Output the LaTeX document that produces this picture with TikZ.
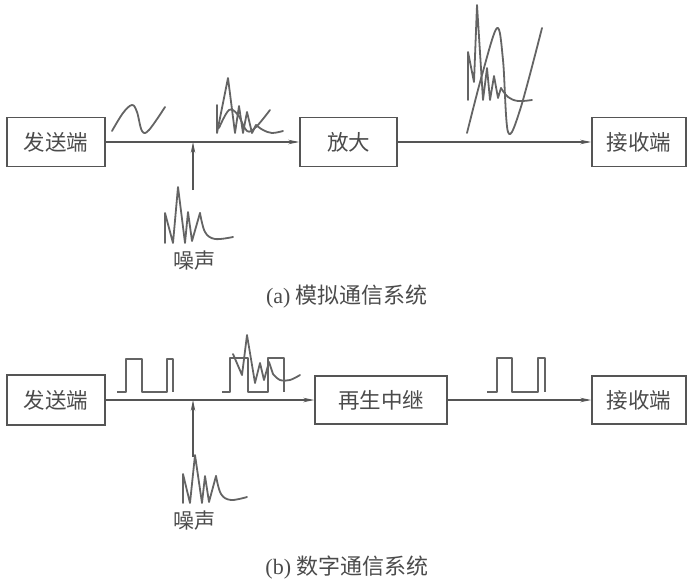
\documentclass[tikz,border=0pt]{standalone}
\usepackage{fontspec}
\setmainfont{Liberation Serif}
\newfontfamily\cjk{Noto Sans CJK SC}
\usetikzlibrary{arrows.meta}
\definecolor{ink}{RGB}{85,85,85}
\definecolor{wave}{RGB}{100,100,100}
\definecolor{txt}{RGB}{75,75,75}
\begin{document}
\begin{tikzpicture}[x=1pt,y=-1pt,
  box/.style={draw=ink,line width=1.6pt,minimum height=49pt,inner sep=0pt,
    text=txt,font=\fontsize{21.5}{21.5}\selectfont\cjk},
  conn/.style={draw=ink,line width=1.1pt,-{Stealth[length=11pt,width=4.5pt]}},
  wv/.style={draw=wave,line width=1.8pt,line join=round,line cap=round},
  lbl/.style={text=txt,font=\fontsize{21}{21}\selectfont\cjk,inner sep=0pt},
  captext/.style={text=txt,font=\fontsize{22}{22}\selectfont,inner sep=0pt}]
\useasboundingbox (0,0) rectangle (687,586);
% ---------- (a) ----------
\node[box,minimum width=98pt] (s1) at (56,142) {发送端};
\node[box,minimum width=97pt] (a1) at (348.5,142) {放大};
\node[box,minimum width=94pt] (r1) at (639,142) {接收端};
\coordinate (j1) at (193,142);
\coordinate (n1) at (193,190);
\draw[conn] (s1.east) -- (a1.west);
\draw[conn] (a1.east) -- (r1.west);
\draw[conn] (n1) -- (j1);
% sine
\draw[wv] plot[smooth,tension=0.6] coordinates {(112,131) (123,113) (132,105) (137,112) (142,131) (149,130) (165,107)};
% noisy signal
\draw[wv] (217,105) -- (217,133) -- (228,78) -- (235,133) -- (239,106) -- (243,133) -- (247,112) -- (252,133) -- (256,125);
\draw[wv] plot[smooth,tension=0.6] coordinates {(256,125) (263,130) (272,133) (283,131)};
\draw[wv] plot[smooth,tension=0.6] coordinates {(219,128) (229,110) (238,115) (247,131) (256,127) (270,110)};
% amplified signal
\draw[wv] (468,100) -- (468,52) -- (474,82) -- (477,5) -- (483,100) -- (487,68) -- (490,100) -- (494,76) -- (498,98) -- (501,88);
\draw[wv] plot[smooth,tension=0.6] coordinates {(501,88) (508,97) (518,101) (532,100)};
\draw[wv] plot[smooth,tension=0.55] coordinates {(467,133) (482,75) (497,28) (503,60) (508,132) (520,110) (542,28)};
% noise
\draw[wv] (165,243) -- (165,213) -- (173,243) -- (178,187) -- (185,243) -- (188,212) -- (192,241) -- (200,213);
\draw[wv] plot[smooth,tension=0.6] coordinates {(200,213) (205,232) (215,239) (233,237)};
\node[lbl] (l1) at (194,261) {噪声};
\node[captext] (c1) at (347,297) {(a) {\cjk 模拟通信系统}};
% ---------- (b) ----------
\node[box,minimum width=98pt,minimum height=50pt] (s2) at (56,400) {发送端};
\node[box,minimum width=132pt,minimum height=48pt] (g2) at (381,400) {再生中继};
\node[box,minimum width=94pt,minimum height=48pt] (r2) at (639,400) {接收端};
\coordinate (j2) at (193,400);
\coordinate (n2) at (193,457);
\draw[conn] (s2.east) -- (g2.west);
\draw[conn] (g2.east) -- (r2.west);
\draw[conn] (n2) -- (j2);
% pulses
\draw[wv,line cap=butt] (117,392) -- (126,392) -- (126,359) -- (142,359) -- (142,392) -- (167,392) -- (167,359) -- (173,359) -- (173,392);
\draw[wv,line cap=butt] (222,392) -- (230,392) -- (230,358) -- (248,358) -- (248,392) -- (268,392) -- (268,358) -- (284,358) -- (284,392);
\draw[wv] (233,354) -- (242,375) -- (247,335) -- (255,383) -- (260,363) -- (264,380) -- (269,362) -- (273,374);
\draw[wv] plot[smooth,tension=0.6] coordinates {(273,374) (280,380) (290,380) (300,375)};
\draw[wv,line cap=butt] (487,392) -- (497,392) -- (497,358) -- (512,358) -- (512,392) -- (538,392) -- (538,358) -- (545,358) -- (545,392);
% noise
\draw[wv] (183,503) -- (183,474) -- (190,503) -- (195,455) -- (202,503) -- (205,476) -- (209,502) -- (216,476);
\draw[wv] plot[smooth,tension=0.6] coordinates {(216,476) (221,494) (231,500) (247,497)};
\node[lbl] (l2) at (194,521) {噪声};
\node[captext] (c2) at (347,568) {(b) {\cjk 数字通信系统}};
\end{tikzpicture}
\end{document}
